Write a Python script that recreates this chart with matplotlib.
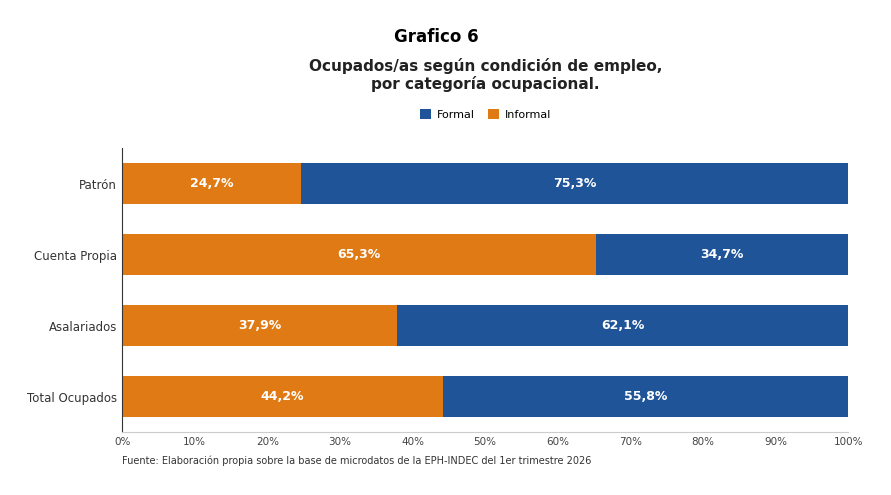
import matplotlib.pyplot as plt

categories = ["Patrón", "Cuenta Propia", "Asalariados", "Total Ocupados"]
informal = [24.7, 65.3, 37.9, 44.2]
formal = [75.3, 34.7, 62.1, 55.8]

c_formal = "#1F5499"
c_informal = "#E07A14"

fig = plt.figure(figsize=(8.91, 4.95), dpi=100)
ax = fig.add_axes([0.137, 0.127, 0.815, 0.574])

y = list(range(len(categories)))
ax.barh(y, informal, height=0.58, color=c_informal, label="Informal")
ax.barh(y, formal, left=informal, height=0.58, color=c_formal, label="Formal")

for i in y:
    ax.text(informal[i] / 2, i, f"{informal[i]:.1f}%".replace(".", ","),
            ha="center", va="center", color="white", fontsize=9, fontweight="bold")
    ax.text(informal[i] + formal[i] / 2, i, f"{formal[i]:.1f}%".replace(".", ","),
            ha="center", va="center", color="white", fontsize=9, fontweight="bold")

ax.set_yticks(y)
ax.set_yticklabels(categories, fontsize=8.5, color="#333333")
ax.set_ylim(3.5, -0.5)
ax.set_xlim(0, 100)
ax.set_xticks(range(0, 101, 10))
ax.set_xticklabels([f"{v}%" for v in range(0, 101, 10)], fontsize=7.5, color="#444444")
ax.tick_params(length=0)
for s in ["top", "right"]:
    ax.spines[s].set_visible(False)
ax.spines["bottom"].set_color("#cccccc")
ax.spines["left"].set_color("#333333")

fig.text(0.49, 0.925, "Grafico 6", ha="center", va="center", fontsize=12, fontweight="bold")
fig.text(0.545, 0.848, "Ocupados/as según condición de empleo,\npor categoría ocupacional.",
         ha="center", va="center", fontsize=11, fontweight="bold", color="#222222",
         linespacing=1.15)

h, l = ax.get_legend_handles_labels()
fig.legend([h[1], h[0]], [l[1], l[0]], loc="center", bbox_to_anchor=(0.545, 0.768),
           ncol=2, frameon=False, fontsize=8, handlelength=1, handleheight=1,
           columnspacing=1.2, handletextpad=0.5)

fig.text(0.137, 0.07, "Fuente: Elaboración propia sobre la base de microdatos de la EPH-INDEC del 1er trimestre 2026",
         fontsize=7, color="#333333", va="center")

fig.savefig("out.png", dpi=100)
